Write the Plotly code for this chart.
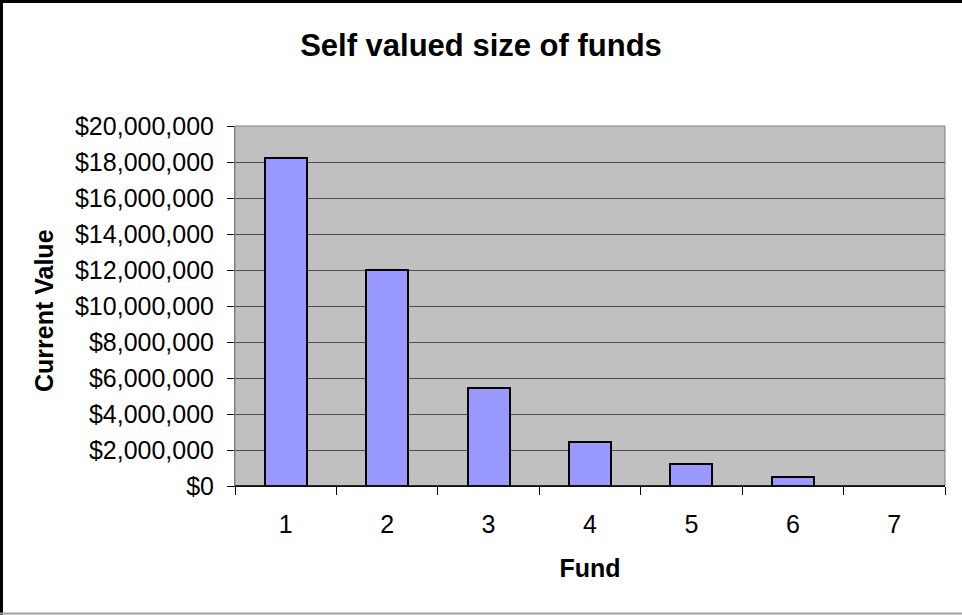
import plotly.graph_objects as go

funds = ["1", "2", "3", "4", "5", "6", "7"]
values = [18200000, 12000000, 5450000, 2450000, 1240000, 480000, 0]
y_ticks = list(range(0, 20000001, 2000000))
y_tick_labels = ["${:,}".format(v) for v in y_ticks]

W, H = 962, 615
L, R, T, B = 235, 17, 126, 129
pw, ph = W - L - R, H - T - B

def px(x):
    return (x - L) / pw

def py(y):
    return (H - B - y) / ph

fig = go.Figure()
fig.add_trace(go.Bar(
    x=funds, y=values, width=0.414,
    marker=dict(color="#9999FF",
                line=dict(color="black", width=[2 if v > 0 else 0 for v in values])),
))

font = "Liberation Sans, Arial, sans-serif"
fig.update_layout(
    width=W, height=H,
    margin=dict(l=L, r=R, t=T, b=B, autoexpand=False),
    paper_bgcolor="white", plot_bgcolor="#C0C0C0",
    showlegend=False, bargap=0,
    font=dict(family=font, size=25, color="black"),
    title=dict(text="<b>Self valued size of funds</b>", x=0.5, xref="container",
               xanchor="center", y=1 - 45 / H, yref="container", yanchor="middle",
               font=dict(family=font, size=31, color="black")),
    xaxis=dict(type="category", tickson="boundaries", ticks="outside",
               ticklen=8, tickcolor="black", showline=True, linecolor="black",
               linewidth=1, showgrid=False, ticklabelstandoff=16,
               title=dict(text="<b>Fund</b>", standoff=22,
                          font=dict(family=font, size=25))),
    yaxis=dict(range=[0, 20000000], tickmode="array", tickvals=y_ticks,
               ticktext=y_tick_labels, ticks="outside", ticklen=7, tickcolor="black",
               showline=True, linecolor="#808080", linewidth=1,
               showgrid=True, gridcolor="#4d4d4d", gridwidth=1,
               zeroline=False, ticklabelstandoff=8),
    shapes=[
        dict(type="rect", xref="paper", yref="paper", x0=0, x1=1, y0=0, y1=1,
             line=dict(color="#808080", width=1), layer="above"),
        dict(type="line", xref="paper", yref="paper", x0=0, x1=1, y0=0, y1=0,
             line=dict(color="black", width=1.5), layer="above"),
        dict(type="line", xref="paper", yref="paper", x0=px(1.5), x1=px(1.5),
             y0=py(0), y1=py(H), line=dict(color="black", width=3)),
        dict(type="line", xref="paper", yref="paper", x0=px(0), x1=px(W),
             y0=py(1.5), y1=py(1.5), line=dict(color="black", width=3)),
        dict(type="line", xref="paper", yref="paper", x0=px(0), x1=px(W),
             y0=py(613.5), y1=py(613.5), line=dict(color="#A0A0A0", width=2)),
    ],
)
fig.add_annotation(text="<b>Current Value</b>", xref="paper", yref="paper",
                   x=px(44), y=py(311), textangle=-90, showarrow=False,
                   font=dict(family=font, size=25), xanchor="center", yanchor="middle")
fig.write_html("out.html")
